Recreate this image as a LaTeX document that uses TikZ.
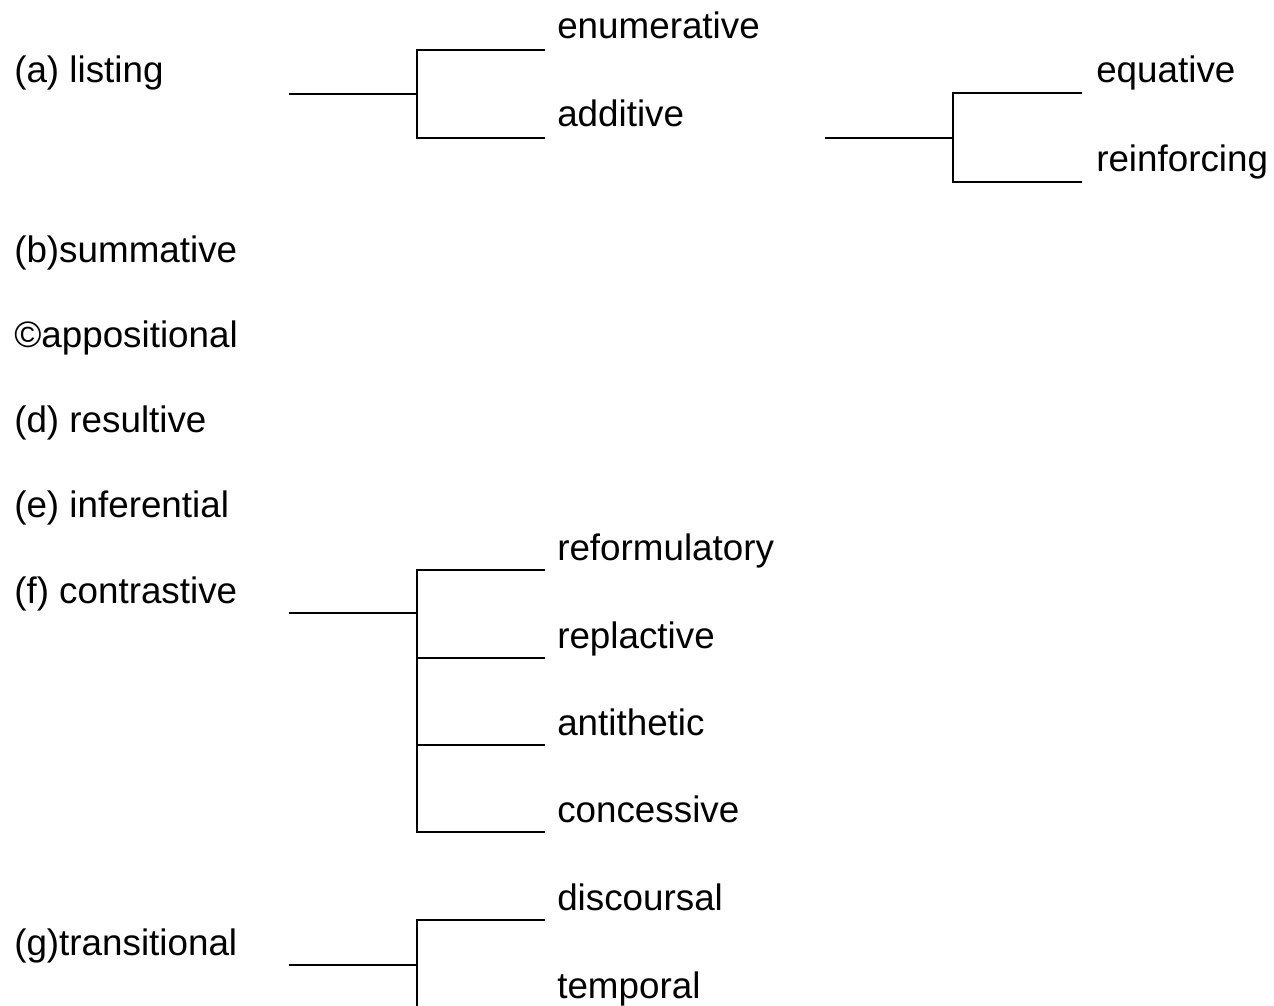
\documentclass[tikz,border=0pt]{standalone}
\usepackage{fontspec}
\setmainfont{Liberation Sans}
\usepackage{tikz}

\begin{document}
\begin{tikzpicture}
[
x=0.75pt, y=-0.75pt,
every node/.style={inner sep=0pt, anchor=base west, font=\fontsize{27.6}{33}\selectfont},
fork/.style={line width=1.5pt}
]
\path[use as bounding box, clip] (0,0) rectangle (1274,1006);

% left column
\node (listing) at (14,83) {(a) listing};
\node (summ) at (14,262) {(b)summative};
\node (appos) at (14,347) {©appositional};
\node (resul) at (14,432) {(d) resultive};
\node (infer) at (14,517) {(e) inferential};
\node (contr) at (14,603) {(f) contrastive};
\node (trans) at (14,955) {(g)transitional};

% listing
\node (enum) at (557,39) {enumerative};
\node (addit) at (557,127) {additive};
\coordinate (a0) at (289,94);
\coordinate (a1) at (417,94);
\coordinate (enumL) at (545,50);
\coordinate (additL) at (545,137.5);
\draw[fork] (a0) -- (a1);
\draw[fork] (enumL) -| (a1) |- (additL);

% additive
\node (equat) at (1096,83) {equative};
\node (reinf) at (1096,171.5) {reinforcing};
\coordinate (b0) at (825,137.5);
\coordinate (b1) at (953,137.5);
\coordinate (equatL) at (1082,93.5);
\coordinate (reinfL) at (1082,181.5);
\draw[fork] (b0) -- (b1);
\draw[fork] (equatL) -| (b1) |- (reinfL);

% contrastive
\node (refor) at (557,560) {reformulatory};
\node (repla) at (557,648) {replactive};
\node (antit) at (557,735) {antithetic};
\node (conce) at (557,822) {concessive};
\coordinate (c0) at (289,613);
\coordinate (c1) at (417,613);
\coordinate (reforL) at (545,570);
\coordinate (replaL) at (545,658);
\coordinate (antitL) at (545,745);
\coordinate (conceL) at (545,832);
\draw[fork] (c0) -- (c1);
\draw[fork] (reforL) -| (c1) |- (conceL);
\draw[fork] (c1 |- replaL) -- (replaL);
\draw[fork] (c1 |- antitL) -- (antitL);

% transitional
\node (disco) at (557,910) {discoursal};
\node (tempo) at (557,998) {temporal};
\coordinate (d0) at (289,965);
\coordinate (d1) at (417,965);
\coordinate (discoL) at (545,920);
\coordinate (tempoL) at (545,1008);
\draw[fork] (d0) -- (d1);
\draw[fork] (discoL) -| (d1) |- (tempoL);
\end{tikzpicture}
\end{document}
